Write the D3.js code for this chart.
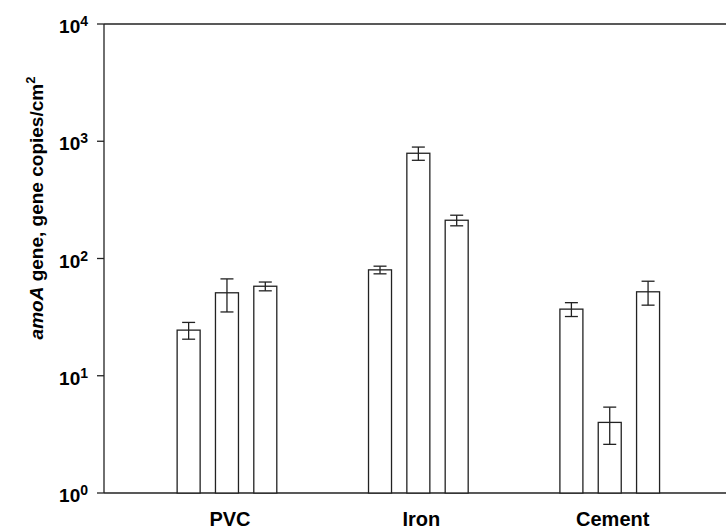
<!DOCTYPE html>
<html lang="en">
<head>
    <meta charset="UTF-8">
    <title>amoA gene copies by pipe material</title>
    <script src="https://d3js.org/d3.v7.min.js"></script>
    <style>
        body {
            margin: 0;
            padding: 0;
            background: #fff;
        }

        svg {
            display: block;
            font-family: "Liberation Sans", Arial, sans-serif;
        }
    </style>
</head>
<body>
    <svg id="chart" width="726" height="529"></svg>

    <script>
        // data (gene copies/cm2, mean and error)
        const materials = ["PVC", "Iron", "Cement"];
        const pvcValues = [24.5, 51, 58];
        const pvcErrors = [4, 16, 5];
        const ironValues = [80, 790, 212];
        const ironErrors = [6, 102, 22];
        const cementValues = [37, 4.0, 52];
        const cementErrors = [5, 1.4, 12];
        const tickValues = [1, 10, 100, 1000, 10000];

        const width = 726;
        const height = 529;
        const margin = { top: 24, right: 0, bottom: 36, left: 104 };

        const svg = d3.select("#chart");

        const series = [
            { name: "PVC", values: pvcValues, errors: pvcErrors },
            { name: "Iron", values: ironValues, errors: ironErrors },
            { name: "Cement", values: cementValues, errors: cementErrors }
        ];

        const y = d3.scaleLog()
            .domain([1, 10000])
            .range([height - margin.bottom, margin.top]);

        const x = d3.scaleBand()
            .domain(materials)
            .range([margin.left, width - margin.right])
            .paddingInner(0)
            .paddingOuter(0.125)
            .align(0.57);

        // three bars inside each group
        const xSub = d3.scaleBand()
            .domain([0, 1, 2])
            .range([-57.5, 57.5])
            .paddingInner(0.4)
            .paddingOuter(0.2);

        // frame lines: left axis, bottom, top
        svg.append("line")
            .attr("x1", margin.left).attr("x2", width)
            .attr("y1", y(10000)).attr("y2", y(10000))
            .attr("stroke", "#222").attr("stroke-width", 1.3);

        svg.append("line")
            .attr("x1", margin.left).attr("x2", width)
            .attr("y1", y(1)).attr("y2", y(1))
            .attr("stroke", "#222").attr("stroke-width", 1.3);

        svg.append("line")
            .attr("x1", margin.left).attr("x2", margin.left)
            .attr("y1", y(1)).attr("y2", y(10000))
            .attr("stroke", "#222").attr("stroke-width", 1.3);

        // y ticks with 10^n labels
        const ticks = svg.append("g").attr("class", "y-ticks");

        ticks.selectAll("line")
            .data(tickValues)
            .enter().append("line")
            .attr("x1", margin.left - 7).attr("x2", margin.left)
            .attr("y1", d => y(d)).attr("y2", d => y(d))
            .attr("stroke", "#222").attr("stroke-width", 1.3);

        const labels = ticks.selectAll("text")
            .data(tickValues)
            .enter().append("text")
            .attr("x", 88)
            .attr("y", d => y(d) + 9)
            .attr("text-anchor", "end")
            .attr("font-weight", "bold")
            .attr("font-size", 19);

        labels.append("tspan").text("10");
        labels.append("tspan")
            .attr("font-size", 14)
            .attr("dy", -7)
            .text(d => Math.round(Math.log10(d)));

        // bars
        const groups = svg.selectAll("g.group")
            .data(series)
            .enter().append("g")
            .attr("class", "group")
            .attr("transform", d => `translate(${x(d.name) + x.bandwidth() / 2},0)`);

        groups.selectAll("rect")
            .data(d => d.values)
            .enter().append("rect")
            .attr("x", (d, i) => xSub(i))
            .attr("width", xSub.bandwidth())
            .attr("y", d => y(d))
            .attr("height", d => y(1) - y(d))
            .attr("fill", "#fff")
            .attr("stroke", "#222")
            .attr("stroke-width", 1.3);

        // error bars
        const capHalf = 6.5;
        const errs = groups.selectAll("g.err")
            .data(d => d.values.map((v, i) => ({ v: v, e: d.errors[i], i: i })))
            .enter().append("g")
            .attr("class", "err")
            .attr("stroke", "#222")
            .attr("stroke-width", 1.3);

        errs.append("line")
            .attr("x1", d => xSub(d.i) + xSub.bandwidth() / 2)
            .attr("x2", d => xSub(d.i) + xSub.bandwidth() / 2)
            .attr("y1", d => y(d.v + d.e))
            .attr("y2", d => y(d.v - d.e));

        errs.append("line")
            .attr("x1", d => xSub(d.i) + xSub.bandwidth() / 2 - capHalf)
            .attr("x2", d => xSub(d.i) + xSub.bandwidth() / 2 + capHalf)
            .attr("y1", d => y(d.v + d.e))
            .attr("y2", d => y(d.v + d.e));

        errs.append("line")
            .attr("x1", d => xSub(d.i) + xSub.bandwidth() / 2 - capHalf)
            .attr("x2", d => xSub(d.i) + xSub.bandwidth() / 2 + capHalf)
            .attr("y1", d => y(d.v - d.e))
            .attr("y2", d => y(d.v - d.e));

        // category labels
        svg.selectAll("text.cat")
            .data(materials)
            .enter().append("text")
            .attr("class", "cat")
            .attr("x", d => x(d) + x.bandwidth() / 2 + 3)
            .attr("y", 526)
            .attr("text-anchor", "middle")
            .attr("font-weight", "bold")
            .attr("font-size", 20)
            .text(d => d);

        // y axis title
        const title = svg.append("text")
            .attr("transform", "translate(43,208) rotate(-90)")
            .attr("text-anchor", "middle")
            .attr("font-weight", "bold")
            .attr("font-size", 19);

        title.append("tspan").attr("font-style", "italic").text("amoA");
        title.append("tspan").text(" gene, gene copies/cm");
        title.append("tspan").attr("font-size", 13).attr("dy", -8).text("2");
    </script>
</body>
</html>
